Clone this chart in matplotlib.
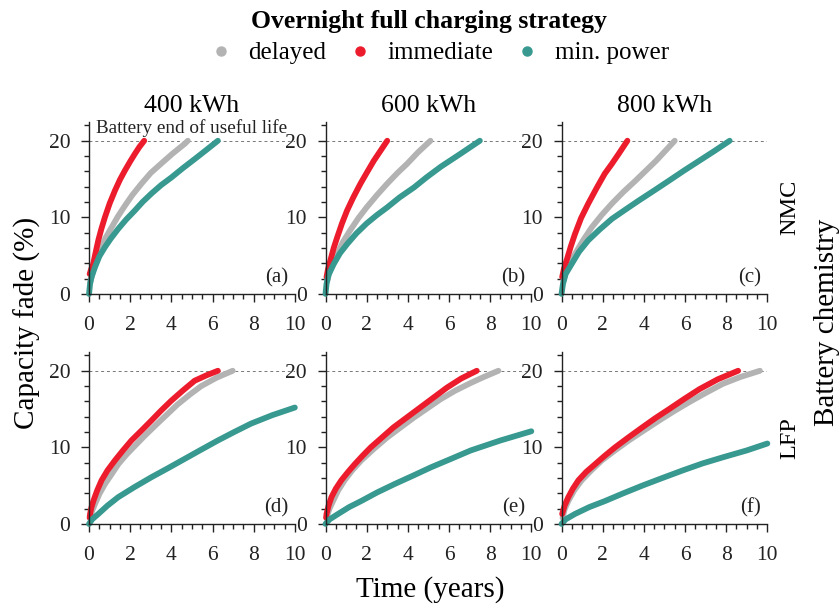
import matplotlib
matplotlib.use("Agg")
import matplotlib.pyplot as plt
from matplotlib.lines import Line2D
from matplotlib.ticker import MultipleLocator

plt.rcParams['font.family'] = ['Liberation Serif', 'DejaVu Serif']

capacities = ['400 kWh', '600 kWh', '800 kWh']
chemistries = ['NMC', 'LFP']
strategies = ['delayed', 'immediate', 'min. power']
panel_tags = ['(a)', '(b)', '(c)', '(d)', '(e)', '(f)']
eol_fade = 20

# capacity fade (%) vs time (years)
# NMC 400 kWh
nmc400_delayed_t = [0.05, 0.13, 0.3, 0.53, 0.8, 1.1, 1.4, 1.74, 2.1, 2.55, 3.0, 3.5, 4.05, 4.65, 4.8]
nmc400_delayed_y = [1.5, 2.2, 4.2, 5.7, 7.3, 8.7, 10.1, 11.5, 12.9, 14.4, 15.8, 17.0, 18.3, 19.6, 20.0]
nmc400_immediate_t = [0.03, 0.1, 0.2, 0.32, 0.45, 0.6, 0.77, 1.0, 1.26, 1.5, 1.74, 2.0, 2.23, 2.45, 2.68]
nmc400_immediate_y = [2.6, 3.2, 3.9, 5.4, 7.0, 8.5, 10.0, 11.8, 13.5, 14.9, 16.1, 17.3, 18.3, 19.2, 20.0]
nmc400_minpower_t = [0, 0.05, 0.12, 0.29, 0.5, 0.77, 1.05, 1.42, 1.8, 2.23, 2.6, 3.03, 3.5, 4.0, 4.55, 5.13, 5.7, 6.26]
nmc400_minpower_y = [0, 1.3, 2.2, 3.5, 4.9, 6.1, 7.2, 8.5, 9.7, 10.9, 12.0, 13.1, 14.2, 15.2, 16.4, 17.6, 18.8, 20.0]
# NMC 600 kWh
nmc600_delayed_t = [0.08, 0.25, 0.57, 0.85, 1.2, 1.6, 2.0, 2.5, 3.0, 3.5, 3.97, 4.5, 5.1]
nmc600_delayed_y = [1.7, 3.4, 5.2, 6.8, 8.3, 9.9, 11.3, 12.9, 14.4, 15.8, 17.0, 18.5, 20.0]
nmc600_immediate_t = [0.05, 0.12, 0.24, 0.4, 0.57, 0.8, 1.05, 1.35, 1.7, 2.0, 2.35, 2.7, 3.0]
nmc600_immediate_y = [2.2, 3.2, 4.4, 6.0, 7.4, 9.2, 10.9, 12.6, 14.4, 15.8, 17.4, 18.8, 20.0]
nmc600_minpower_t = [0, 0.05, 0.15, 0.4, 0.7, 1.05, 1.5, 2.0, 2.5, 3.0, 3.6, 4.3, 4.9, 5.6, 6.56, 7.5]
nmc600_minpower_y = [0, 1.3, 2.5, 3.9, 5.3, 6.5, 7.9, 9.2, 10.3, 11.3, 12.6, 13.9, 15.2, 16.6, 18.3, 20.0]
# NMC 800 kWh
nmc800_delayed_t = [0.08, 0.3, 0.65, 1.05, 1.47, 1.95, 2.45, 3.0, 3.6, 4.1, 4.6, 5.05, 5.5]
nmc800_delayed_y = [1.7, 3.5, 5.2, 7.0, 8.7, 10.3, 11.8, 13.3, 14.8, 16.1, 17.4, 18.7, 20.0]
nmc800_immediate_t = [0.03, 0.12, 0.25, 0.45, 0.65, 0.95, 1.3, 1.7, 2.1, 2.45, 2.78, 3.2]
nmc800_immediate_y = [2.2, 3.3, 4.4, 6.2, 7.8, 9.9, 11.8, 13.8, 15.7, 17.0, 18.3, 20.0]
nmc800_minpower_t = [0, 0.07, 0.2, 0.49, 0.85, 1.3, 1.85, 2.45, 3.1, 3.76, 4.5, 5.23, 5.95, 6.7, 7.45, 8.17]
nmc800_minpower_y = [0, 1.3, 2.6, 3.9, 5.5, 7.0, 8.4, 9.8, 11.0, 12.2, 13.5, 14.8, 16.1, 17.4, 18.7, 20.0]
# LFP 400 kWh
lfp400_delayed_t = [0.05, 0.15, 0.29, 0.5, 0.77, 1.1, 1.42, 1.8, 2.23, 2.7, 3.2, 3.75, 4.3, 4.9, 5.45, 6.2, 6.98]
lfp400_delayed_y = [0.8, 1.7, 2.6, 3.9, 5.2, 6.5, 7.8, 9.0, 10.2, 11.5, 12.8, 14.2, 15.6, 16.9, 18.0, 19.1, 20.0]
lfp400_immediate_t = [0.03, 0.05, 0.12, 0.21, 0.4, 0.61, 0.9, 1.26, 1.65, 2.06, 2.55, 3.03, 3.5, 4.0, 4.55, 5.13, 5.7, 6.26]
lfp400_immediate_y = [0.8, 1.3, 2.2, 3.0, 4.4, 5.7, 7.0, 8.3, 9.6, 10.9, 12.2, 13.5, 14.8, 16.1, 17.4, 18.7, 19.4, 20.0]
lfp400_minpower_t = [0, 0.15, 0.45, 0.9, 1.42, 2.2, 3.03, 3.85, 4.65, 5.45, 6.26, 7.05, 7.87, 8.9, 10.0]
lfp400_minpower_y = [0, 0.6, 1.3, 2.4, 3.5, 4.8, 6.1, 7.3, 8.5, 9.7, 10.9, 12.0, 13.1, 14.2, 15.2]
# LFP 600 kWh
lfp600_delayed_t = [0.05, 0.18, 0.37, 0.62, 0.93, 1.3, 1.74, 2.35, 3.0, 3.65, 4.3, 4.95, 5.6, 6.3, 7.05, 7.7, 8.4]
lfp600_delayed_y = [0.8, 1.9, 3.0, 4.4, 5.7, 7.0, 8.3, 9.8, 11.3, 12.6, 13.9, 15.1, 16.3, 17.4, 18.4, 19.2, 20.0]
lfp600_immediate_t = [0.03, 0.05, 0.15, 0.29, 0.5, 0.77, 1.1, 1.42, 1.8, 2.2, 2.75, 3.3, 3.95, 4.6, 5.25, 5.9, 6.6, 7.35]
lfp600_immediate_y = [0.8, 1.3, 2.4, 3.5, 4.6, 5.7, 6.8, 7.8, 8.9, 10.0, 11.3, 12.6, 13.9, 15.2, 16.5, 17.8, 19.0, 20.0]
lfp600_minpower_t = [0, 0.2, 0.61, 1.15, 1.74, 2.5, 3.35, 4.25, 5.13, 6.1, 7.06, 8.5, 10.0]
lfp600_minpower_y = [0, 0.6, 1.3, 2.2, 3.0, 4.1, 5.2, 6.3, 7.4, 8.5, 9.6, 10.9, 12.1]
# LFP 800 kWh
lfp800_delayed_t = [0.05, 0.15, 0.33, 0.62, 0.98, 1.45, 1.96, 2.6, 3.27, 4.0, 4.74, 5.45, 6.2, 7.0, 7.84, 8.7, 9.64]
lfp800_delayed_y = [0.8, 1.9, 3.0, 4.4, 5.7, 7.0, 8.3, 9.6, 10.9, 12.2, 13.5, 14.7, 15.9, 17.1, 18.3, 19.2, 20.0]
lfp800_immediate_t = [0.03, 0.15, 0.33, 0.55, 0.82, 1.2, 1.63, 2.1, 2.6, 3.25, 3.92, 4.55, 5.23, 5.95, 6.7, 7.6, 8.58]
lfp800_immediate_y = [1.3, 2.4, 3.5, 4.6, 5.7, 6.8, 7.8, 8.9, 10.0, 11.3, 12.6, 13.8, 15.0, 16.3, 17.6, 18.9, 20.0]
lfp800_minpower_t = [0, 0.2, 0.65, 1.35, 2.12, 3.0, 3.92, 4.9, 5.9, 6.85, 7.84, 9.0, 10.0]
lfp800_minpower_y = [0, 0.6, 1.3, 2.2, 3.0, 4.0, 5.0, 6.0, 7.0, 7.9, 8.7, 9.6, 10.5]

panels = [
    [(nmc400_delayed_t, nmc400_delayed_y), (nmc400_immediate_t, nmc400_immediate_y), (nmc400_minpower_t, nmc400_minpower_y)],
    [(nmc600_delayed_t, nmc600_delayed_y), (nmc600_immediate_t, nmc600_immediate_y), (nmc600_minpower_t, nmc600_minpower_y)],
    [(nmc800_delayed_t, nmc800_delayed_y), (nmc800_immediate_t, nmc800_immediate_y), (nmc800_minpower_t, nmc800_minpower_y)],
    [(lfp400_delayed_t, lfp400_delayed_y), (lfp400_immediate_t, lfp400_immediate_y), (lfp400_minpower_t, lfp400_minpower_y)],
    [(lfp600_delayed_t, lfp600_delayed_y), (lfp600_immediate_t, lfp600_immediate_y), (lfp600_minpower_t, lfp600_minpower_y)],
    [(lfp800_delayed_t, lfp800_delayed_y), (lfp800_immediate_t, lfp800_immediate_y), (lfp800_minpower_t, lfp800_minpower_y)],
]

colors = ['#B3B3B3', '#EC1C2D', '#37998F']
ink = '#222222'

fig = plt.figure(figsize=(8.4, 6.11), dpi=100)

lefts = [0.106, 0.3875, 0.6685]
bottoms = [0.519, 0.1425]
w, h = 0.245, 0.282

for i in range(6):
    r, c = divmod(i, 3)
    ax = fig.add_axes([lefts[c], bottoms[r], w, h])
    ax.axhline(eol_fade, color='#777777', ls=(0, (3, 3)), lw=0.7, zorder=1)
    for (t, y), col in zip(panels[i], colors):
        ax.plot(t, y, color=col, lw=4.2, solid_capstyle='round',
                solid_joinstyle='round', clip_on=False, zorder=2)
    ax.set_xlim(0, 10)
    ax.set_ylim(0, 22.5)
    ax.set_xticks([0, 2, 4, 6, 8, 10])
    ax.set_yticks([0, 10, 20])
    ax.xaxis.set_minor_locator(MultipleLocator(0.5))
    ax.yaxis.set_minor_locator(MultipleLocator(2))
    ax.tick_params(which='major', length=6, width=1, color=ink,
                   labelsize=15.5, labelcolor=ink)
    ax.tick_params(axis='x', which='major', pad=10)
    ax.tick_params(axis='y', which='major', pad=7.5)
    ax.tick_params(which='minor', length=3.3, width=1, color=ink)
    for s in ['top', 'right']:
        ax.spines[s].set_visible(False)
    for s in ['left', 'bottom']:
        ax.spines[s].set_color(ink)
        ax.spines[s].set_linewidth(1)
    ax.text(9.7, 0.9, panel_tags[i], ha='right', va='bottom',
            fontsize=15, color=ink)
    if r == 0:
        ax.set_title(capacities[c], fontsize=18.5, pad=7, color='black')
    if c == 2:
        ax.text(1.11, 0.5, chemistries[r], rotation=90, ha='center',
                va='center', transform=ax.transAxes, fontsize=17.5)
    if i == 0:
        ax.text(0.35, 21.0, 'Battery end of useful life', fontsize=13.8,
                va='baseline', ha='left', color=ink)

fig.text(0.032, 0.472, 'Capacity fade (%)', rotation=90, ha='center',
         va='center', fontsize=21)
fig.text(0.985, 0.472, 'Battery chemistry', rotation=90, ha='center',
         va='center', fontsize=21)
fig.text(0.512, 0.035, 'Time (years)', ha='center', va='center', fontsize=21)

fig.text(0.511, 0.964, 'Overnight full charging strategy', ha='center',
         va='center', fontsize=18.5, fontweight='bold')
handles = [Line2D([], [], ls='none', marker='o', markersize=6.5,
                  color=col) for col in colors]
fig.legend(handles, strategies, loc='center', bbox_to_anchor=(0.522, 0.913),
           ncol=3, frameon=False, fontsize=18, handlelength=1,
           handletextpad=0.6, columnspacing=0.85, borderpad=0)

fig.savefig('out.png', dpi=100)
